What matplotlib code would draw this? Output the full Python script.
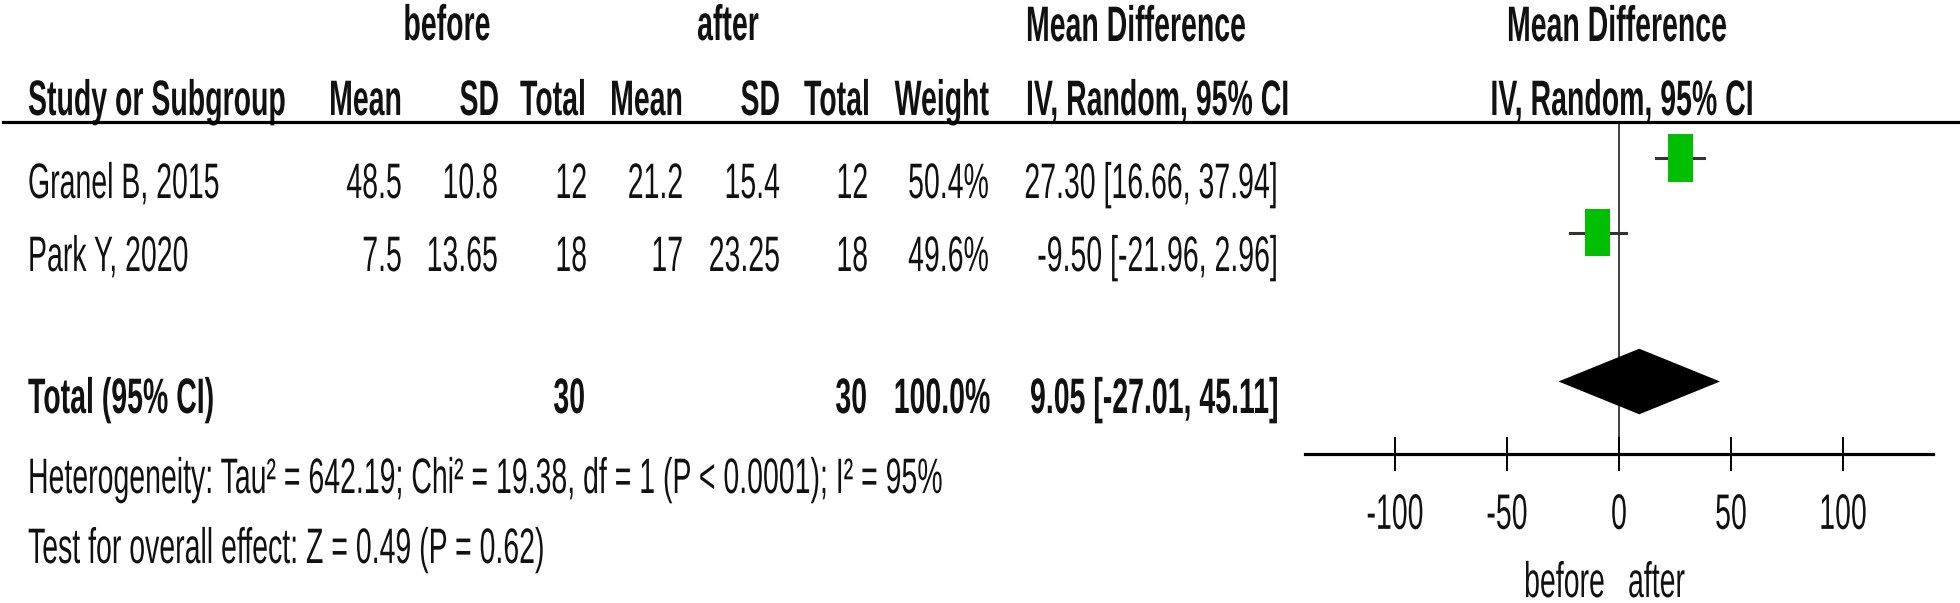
import matplotlib
matplotlib.use("Agg")
import matplotlib.pyplot as plt
from matplotlib.patches import Rectangle, Polygon
from matplotlib.lines import Line2D
from matplotlib.patheffects import AbstractPathEffect
from matplotlib.transforms import Affine2D

plt.rcParams['font.family'] = ['Liberation Sans', 'DejaVu Sans']
plt.rcParams['axes.unicode_minus'] = False

# data
studies = ['Granel B, 2015', 'Park Y, 2020']
before_mean = [48.5, 7.5]
before_sd = [10.8, 13.65]
before_n = [12, 18]
after_mean = [21.2, 17]
after_sd = [15.4, 23.25]
after_n = [12, 18]
weights = [50.4, 49.6]
md = [27.30, -9.50]
ci_lo = [16.66, -21.96]
ci_hi = [37.94, 2.96]
total_md, total_lo, total_hi = 9.05, -27.01, 45.11
total_before, total_after, total_weight = 30, 30, 100.0
x_ticks = [-100, -50, 0, 50, 100]
het_text = 'Heterogeneity: Tau² = 642.19; Chi² = 19.38, df = 1 (P < 0.0001); I² = 95%'
test_text = 'Test for overall effect: Z = 0.49 (P = 0.62)'

W, H = 1960, 603
FS = 20.5        # pt
SY = 1.75        # the source image is stretched vertically
TXT = '#111111'


class VStretch(AbstractPathEffect):
    """draw the glyphs taller, keeping the baseline in place"""
    def __init__(self, sy):
        super().__init__()
        self._sy = sy

    def draw_path(self, renderer, gc, tpath, affine, rgbFace=None):
        renderer.draw_path(gc, tpath, Affine2D().scale(1, self._sy) + affine, rgbFace)


fig = plt.figure(figsize=(W / 100, H / 100), dpi=100)

# text layer in pixel coordinates (y from top)
tax = fig.add_axes([0, 0, 1, 1])
tax.set_xlim(0, W)
tax.set_ylim(H, 0)
tax.axis('off')


def put(x, y, s, ha='left', bold=False):
    tax.text(x, y, s, ha=ha, va='baseline', fontsize=FS, color=TXT,
             fontweight='bold' if bold else 'normal',
             path_effects=[VStretch(SY)])


def fmt(v):
    return f"{v:g}"


# header rows
put(447, 40, 'before', 'center', True)
put(728, 40, 'after', 'center', True)
put(1026, 41, 'Mean Difference', 'left', True)
put(1617, 41, 'Mean Difference', 'center', True)

hdr_y = 115
put(28, hdr_y, 'Study or Subgroup', 'left', True)
for x, s in [(402, 'Mean'), (499, 'SD'), (586, 'Total'),
             (683, 'Mean'), (780, 'SD'), (870, 'Total'), (989, 'Weight')]:
    put(x, hdr_y, s, 'right', True)
put(1026, hdr_y, 'IV, Random, 95% CI', 'left', True)
put(1622, hdr_y, 'IV, Random, 95% CI', 'center', True)

# header rule
fig.add_artist(Line2D([3 / W, 1958 / W], [1 - 121.5 / H, 1 - 121.5 / H],
                      color='black', lw=2.3))

# study rows
row_base = [198, 271]
for i, name in enumerate(studies):
    y = row_base[i]
    put(28, y, name)
    put(402, y, fmt(before_mean[i]), 'right')
    put(498, y, fmt(before_sd[i]), 'right')
    put(587, y, str(before_n[i]), 'right')
    put(683, y, fmt(after_mean[i]), 'right')
    put(780, y, fmt(after_sd[i]), 'right')
    put(868, y, str(after_n[i]), 'right')
    put(989, y, f"{weights[i]:.1f}%", 'right')
    put(1278, y, f"{md[i]:.2f} [{ci_lo[i]:.2f}, {ci_hi[i]:.2f}]", 'right')

# total row
put(28, 413, 'Total (95% CI)', 'left', True)
put(585, 413, str(total_before), 'right', True)
put(867, 413, str(total_after), 'right', True)
put(990, 413, f"{total_weight:.1f}%", 'right', True)
put(1278, 413, f"{total_md:.2f} [{total_lo:.2f}, {total_hi:.2f}]", 'right', True)

put(28, 493, het_text)
put(28, 563, test_text)

# forest plot axes
zero_px, px_per_unit = 1619, 2.24
xmin, xmax = -140, 140
left_px = zero_px + xmin * px_per_unit
width_px = (xmax - xmin) * px_per_unit
top_px, bot_px = 121.5, 454
ax = fig.add_axes([left_px / W, 1 - bot_px / H, width_px / W, (bot_px - top_px) / H])
ax.patch.set_alpha(0)
ax.set_xlim(xmin, xmax)
row_px = 74.5
first_px = 158
ax.set_ylim((bot_px - first_px) / row_px, (top_px - first_px) / row_px)

for s in ['top', 'left', 'right']:
    ax.spines[s].set_visible(False)
ax.spines['bottom'].set_linewidth(2.3)
ax.set_yticks([])
ax.set_xticks(x_ticks)
ax.set_xticklabels([str(t) for t in x_ticks])
ax.tick_params(axis='x', direction='inout', length=25, width=1.4,
               labelsize=FS, pad=27, colors='black', labelcolor=TXT)
for lab in ax.get_xticklabels():
    lab.set_path_effects([VStretch(SY)])

ax.axvline(0, color='#222222', lw=1.2, zorder=1)

box_w, box_h = 11.2, 0.645
for i in range(len(studies)):
    ax.plot([ci_lo[i], ci_hi[i]], [i, i], color='#333333', lw=2.2, zorder=2)
    scale = (weights[i] / max(weights)) ** 0.5
    bw, bh = box_w * scale, box_h * scale
    ax.add_patch(Rectangle((md[i] - bw / 2, i - bh / 2), bw, bh,
                           facecolor='#00BF00', edgecolor='none', zorder=3))

total_row = 3
dh = 0.44
ax.add_patch(Polygon([(total_lo, total_row), (total_md, total_row - dh),
                      (total_hi, total_row), (total_md, total_row + dh)],
                     closed=True, facecolor='black', edgecolor='none', zorder=3))

put(1605, 597, 'before', 'right')
put(1628, 597, 'after', 'left')

fig.savefig('out.png', dpi=100)
